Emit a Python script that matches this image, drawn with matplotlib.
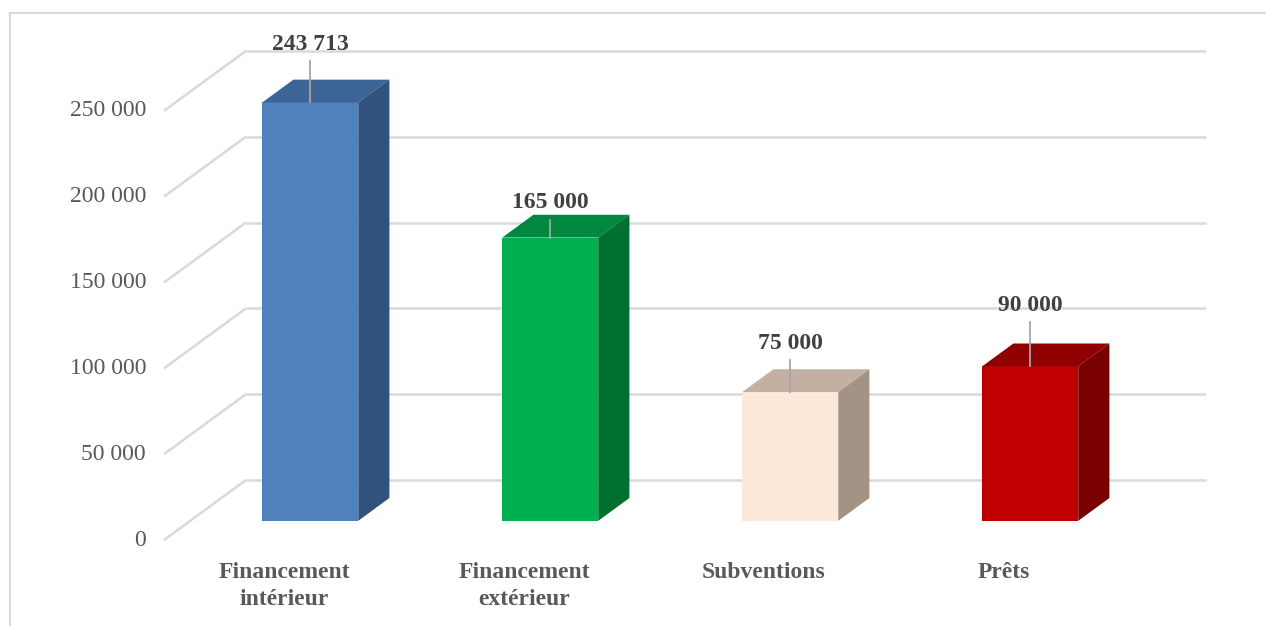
import numpy as np
import matplotlib
matplotlib.use("Agg")
import matplotlib.pyplot as plt
from matplotlib.patches import Polygon
from matplotlib.lines import Line2D

categories = ["Financement\nintérieur", "Financement\nextérieur", "Subventions", "Prêts"]
values = [243713, 165000, 75000, 90000]
ticks = [0, 50000, 100000, 150000, 200000, 250000]

front_colors = ["#4F81BD", "#00B050", "#FDE9D9", "#C00000"]
top_colors = ["#3C6494", "#00893E", "#C3B0A2", "#900000"]
side_colors = ["#30527C", "#007030", "#A39385", "#780000"]
label_off = [58, 35, 49, 61]  # px above bar top (label centre)

plt.rcParams['font.family'] = ['Liberation Serif', 'DejaVu Serif']

W, H = 1266, 626
fig = plt.figure(figsize=(W / 100, H / 100), dpi=100)
ax = fig.add_axes([0, 0, 1, 1])
ax.axis('off')

# pseudo 3d projection: x in category units, y in value units
px_x = 240.0
px_y = 0.0017166
x0_px, y0_px = 284, 540
ax.set_xlim(-x0_px / px_x, (W - x0_px) / px_x)
ax.set_ylim((y0_px - H) / px_y, y0_px / px_y)

DX = 82 / px_x
DY = 60 / px_y
f1, f2 = 0.32, 0.70
bw = 0.4
grid_c = "#D9D9D9"

# gridlines: side wall diagonals + back wall
for t in ticks:
    ax.plot([-0.5, -0.5 + DX], [t, t + DY], color=grid_c, lw=1.8, zorder=1,
            solid_capstyle='butt')
    ax.plot([-0.5 + DX, 3.5 + DX], [t + DY, t + DY], color=grid_c, lw=1.8,
            zorder=1, solid_capstyle='butt')
    ax.text(-0.5 - 18 / px_x, t, f"{t:,}".replace(",", " "), ha='right',
            va='center', fontsize=17, color="#595959")

x = np.arange(len(values))
xf = x + f1 * DX
dd = f2 - f1
ax.bar(xf, values, bottom=f1 * DY, width=bw, color=front_colors, zorder=3,
       linewidth=0)
for i, v in enumerate(values):
    xl, xr = xf[i] - bw / 2, xf[i] + bw / 2
    ytop = v + f1 * DY
    top = Polygon([(xl, ytop), (xr, ytop), (xr + dd * DX, ytop + dd * DY),
                   (xl + dd * DX, ytop + dd * DY)], closed=True,
                  facecolor=top_colors[i], edgecolor='none', zorder=3)
    side = Polygon([(xr, f1 * DY), (xr, ytop), (xr + dd * DX, ytop + dd * DY),
                    (xr + dd * DX, f2 * DY)], closed=True,
                   facecolor=side_colors[i], edgecolor='none', zorder=3)
    ax.add_patch(top)
    ax.add_patch(side)
    # leader line and data label
    off = label_off[i]
    ax.plot([xf[i], xf[i]], [ytop, ytop + (off - 17) / px_y], color="#A6A6A6",
            lw=1.3, zorder=4)
    ax.text(xf[i], ytop + off / px_y, f"{v:,}".replace(",", " "), ha='center',
            va='center', fontsize=17, fontweight='bold', color="#404040",
            zorder=5)
    ax.text(x[i], -22 / px_y, categories[i], ha='center', va='top',
            fontsize=17, fontweight='bold', color="#595959", linespacing=1.35)

# chart border (left and top visible)
fig.add_artist(Line2D([9.5 / W, 9.5 / W], [0, 1 - 13 / H], color=grid_c,
                      lw=1.5, transform=fig.transFigure))
fig.add_artist(Line2D([9.5 / W, 1], [1 - 13 / H, 1 - 13 / H], color=grid_c,
                      lw=1.5, transform=fig.transFigure))

fig.savefig("out.png", dpi=100)
